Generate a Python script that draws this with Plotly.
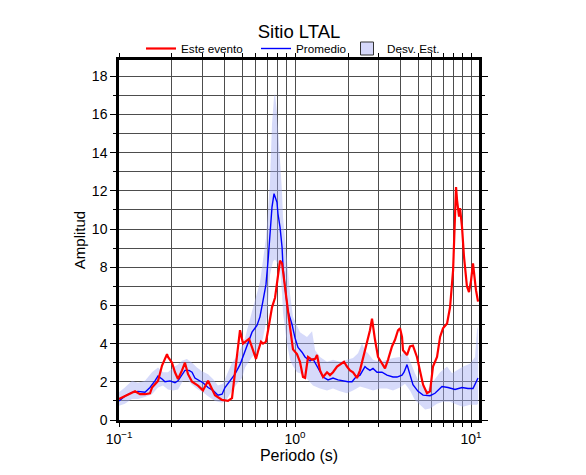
import plotly.graph_objects as go

# ---------------- data ----------------
red_T = [0.100, 0.108, 0.1186, 0.1233, 0.1316, 0.1405, 0.150, 0.154, 0.1666, 0.1756,
         0.1874, 0.1898, 0.195, 0.200, 0.208, 0.2164, 0.228, 0.237, 0.2467, 0.260,
         0.281, 0.300, 0.3206, 0.3375, 0.351, 0.385, 0.416, 0.4385, 0.444, 0.468,
         0.487, 0.5065, 0.5336, 0.548, 0.570, 0.600, 0.6166, 0.641, 0.658, 0.684,
         0.703, 0.740, 0.770, 0.800, 0.822, 0.844, 0.866, 0.900, 0.937, 0.974,
         1.026, 1.067, 1.110, 1.140, 1.186, 1.250, 1.300, 1.334, 1.387, 1.443,
         1.520, 1.580, 1.644, 1.733, 1.802, 1.898, 1.973, 2.053, 2.136, 2.250,
         2.340, 2.434, 2.564, 2.666, 2.738, 2.774, 2.848, 2.962, 3.120, 3.245,
         3.375, 3.556, 3.699, 3.847, 3.95, 4.054, 4.108, 4.329, 4.500, 4.678,
         4.93, 5.13, 5.34, 5.62, 5.85, 6.08, 6.41, 6.67, 6.93, 7.31,
         7.60, 7.91, 8.11, 8.22, 8.33, 8.55, 8.66, 8.89, 9.12, 9.48,
         9.74, 10.0, 10.26, 10.67, 10.96]
red_A = [1.1, 1.25, 1.45, 1.5, 1.35, 1.35, 1.4, 1.7, 2.05, 2.85,
         3.45, 3.3, 3.15, 3.0, 2.5, 2.15, 2.6, 3.0, 2.4, 2.0,
         1.8, 1.55, 2.05, 1.6, 1.3, 1.05, 1.0, 1.15, 1.6, 3.3,
         4.7, 4.0, 4.15, 4.25, 3.8, 3.2, 3.6, 4.1, 4.0, 4.1,
         4.7, 5.9, 6.4, 7.5, 8.35, 8.2, 7.3, 6.25, 4.85, 3.7,
         3.45, 3.05, 2.25, 2.2, 3.3, 3.15, 3.2, 3.4, 2.6, 2.25,
         2.5, 2.35, 2.5, 2.8, 2.9, 3.05, 2.8, 2.6, 2.5, 2.2,
         2.6, 3.2, 4.0, 4.7, 5.3, 4.9, 4.2, 3.3, 2.95, 2.7,
         3.15, 3.85, 4.2, 4.7, 4.8, 4.35, 3.65, 3.4, 3.85, 3.9,
         3.3, 2.6, 1.85, 1.4, 1.5, 2.8, 3.3, 4.35, 4.8, 5.05,
         5.9, 7.85, 10.5, 12.2, 11.5, 10.65, 11.1, 10.1, 8.55, 7.0,
         6.7, 7.3, 8.2, 6.8, 6.2]

blue_T = [0.100, 0.108, 0.1186, 0.1282, 0.1405, 0.150, 0.160, 0.1666, 0.1756, 0.1825,
          0.195, 0.208, 0.2164, 0.228, 0.237, 0.250, 0.260, 0.270, 0.281, 0.300,
          0.3206, 0.342, 0.365, 0.385, 0.400, 0.427, 0.456, 0.487, 0.5065, 0.5336,
          0.570, 0.608, 0.632, 0.658, 0.684, 0.703, 0.721, 0.740, 0.760, 0.770,
          0.790, 0.800, 0.822, 0.844, 0.855, 0.877, 0.912, 0.962, 1.000, 1.040,
          1.096, 1.140, 1.217, 1.265, 1.334, 1.387, 1.443, 1.540, 1.644, 1.755,
          1.874, 2.000, 2.108, 2.193, 2.340, 2.498, 2.564, 2.666, 2.774, 2.923,
          3.120, 3.331, 3.603, 3.797, 4.054, 4.162, 4.329, 4.500, 4.678, 5.0,
          5.34, 5.85, 6.24, 6.84, 7.40, 8.11, 8.89, 9.61, 10.26, 10.96]
blue_A = [1.0, 1.25, 1.45, 1.5, 1.45, 1.7, 2.05, 2.3, 2.15, 2.0,
          2.05, 1.95, 2.05, 2.4, 2.6, 2.6, 2.5, 2.2, 2.1, 1.95,
          1.7, 1.55, 1.3, 1.35, 1.7, 2.05, 2.4, 2.9, 3.3, 3.9,
          4.6, 4.95, 5.4, 6.25, 7.1, 8.35, 9.75, 11.15, 11.85, 11.65,
          11.4, 10.8, 10.1, 9.05, 8.0, 6.95, 5.7, 5.0, 4.3, 3.8,
          3.55, 3.3, 3.1, 3.2, 2.8, 2.5, 2.25, 2.1, 2.2, 2.1,
          2.05, 2.0, 2.0, 2.2, 2.35, 2.8, 2.7, 2.6, 2.7, 2.5,
          2.5, 2.35, 2.25, 2.25, 2.35, 2.5, 2.9, 2.4, 1.85, 1.5,
          1.3, 1.27, 1.4, 1.75, 1.7, 1.6, 1.7, 1.65, 1.65, 2.2]

band_up_T = [0.100, 0.108, 0.1186, 0.1282, 0.1405, 0.154, 0.1666, 0.1778, 0.1898, 0.2027,
             0.2164, 0.228, 0.243, 0.260, 0.2774, 0.296, 0.3206, 0.342, 0.365, 0.390,
             0.411, 0.4385, 0.4745, 0.520, 0.570, 0.632, 0.684, 0.721, 0.740, 0.760,
             0.770, 0.790, 0.822, 0.844, 0.855, 0.900, 0.937, 0.974, 1.067, 1.170,
             1.250, 1.300, 1.387, 1.520, 1.644, 1.802, 1.973, 2.136, 2.280, 2.402,
             2.498, 2.598, 2.774, 3.040, 3.331, 3.603, 3.95, 4.217, 4.5, 4.80,
             5.13, 5.62, 6.08, 6.67, 7.31, 7.80, 8.33, 9.01, 9.86, 10.54,
             10.81, 10.96]
band_up = [1.45, 1.7, 2.05, 1.95, 2.05, 2.5, 2.75, 2.5, 2.5, 2.75,
           2.9, 3.1, 3.2, 3.0, 2.75, 2.55, 2.4, 2.15, 1.8, 1.9,
           2.4, 3.0, 3.4, 4.3, 5.7, 7.2, 9.5, 12.5, 15.5, 16.9,
           17.1, 16.1, 13.6, 11.9, 10.6, 8.4, 6.6, 5.4, 4.6, 4.35,
           4.65, 3.65, 3.3, 3.05, 3.15, 3.05, 3.15, 3.25, 3.5, 4.0,
           3.65, 3.5, 3.15, 3.05, 3.15, 3.25, 3.3, 3.65, 3.1, 2.45,
           1.9, 1.55, 2.0, 2.5, 2.8, 2.45, 2.6, 2.8, 2.95, 3.3,
           4.7, 4.9]

band_lo_T = [0.100, 0.108, 0.1186, 0.1282, 0.1405, 0.154, 0.1666, 0.1778, 0.1898, 0.2027,
             0.2164, 0.231, 0.2467, 0.263, 0.281, 0.300, 0.3206, 0.351, 0.385, 0.411,
             0.4385, 0.468, 0.500, 0.520, 0.570, 0.6166, 0.658, 0.693, 0.721, 0.750,
             0.770, 0.822, 0.844, 0.855, 0.900, 0.937, 0.962, 1.026, 1.067, 1.170,
             1.265, 1.387, 1.520, 1.644, 1.802, 1.973, 2.136, 2.340, 2.564, 2.774,
             3.040, 3.331, 3.603, 3.95, 4.217, 4.5, 4.80, 5.13, 5.48, 5.85,
             6.41, 6.93, 7.60, 8.33, 9.01, 9.86, 10.81, 10.96]
band_lo = [0.75, 0.85, 1.1, 1.1, 1.2, 1.35, 1.7, 1.8, 1.6, 1.55,
           1.6, 2.05, 2.05, 1.8, 1.6, 1.45, 1.25, 1.0, 0.9, 1.1,
           1.55, 1.9, 2.2, 2.75, 3.3, 3.6, 4.3, 5.4, 7.6, 8.3,
           8.4, 8.0, 6.6, 5.6, 4.0, 3.15, 2.9, 2.5, 2.45, 2.15,
           1.8, 1.65, 1.55, 1.65, 1.5, 1.4, 1.55, 1.75, 1.65, 1.55,
           1.65, 1.65, 1.55, 1.7, 1.9, 1.55, 1.05, 0.8, 0.55, 0.6,
           0.85, 0.95, 0.95, 0.8, 0.7, 0.8, 0.8, 0.85]

title_text = "Sitio LTAL"
x_title = "Periodo (s)"
y_title = "Amplitud"
legend_names = ["Este evento", "Promedio", "Desv. Est."]
decades = [0.1, 1, 10]
decade_labels = ["10<sup>\u22121</sup>", "10<sup>0</sup>", "10<sup>1</sup>"]

# ---------------- styling ----------------
FONT = "Liberation Sans, Arial, Helvetica, sans-serif"
RED = "#ff0000"
BLUE = "#0000ff"
BAND = "rgba(165,172,245,0.45)"
BAND_LEG = "rgb(214,216,250)"
GRID = "#4d4d4d"

L, R, T, B = 119, 107, 60, 55
W, H = 586, 475
PW = W - L - R


def px_to_paper(p):
    return (p - L) / PW


x_ticks = []
x_text = []
for d, lab in zip(decades, decade_labels):
    for m in range(1, 10):
        v = d * m
        if v > 11.1:
            break
        x_ticks.append(v)
        x_text.append(lab if m == 1 else "")

fig = go.Figure()

fig.add_trace(go.Scatter(
    x=band_up_T + band_lo_T[::-1], y=band_up + band_lo[::-1],
    fill="toself", fillcolor=BAND, mode="none", line=dict(width=0),
    showlegend=False, hoverinfo="skip"))

fig.add_trace(go.Scatter(x=blue_T, y=blue_A, mode="lines", name=legend_names[1],
                         line=dict(color=BLUE, width=1.4), legend="legend2"))
fig.add_trace(go.Scatter(x=red_T, y=red_A, mode="lines", name=legend_names[0],
                         line=dict(color=RED, width=2.2), legend="legend"))
fig.add_trace(go.Scatter(x=[None], y=[None], mode="markers", name=legend_names[2],
                         marker=dict(symbol="square", size=13, color=BAND_LEG,
                                     line=dict(color="#333333", width=1)),
                         legend="legend3"))

leg_common = dict(orientation="h", xanchor="left", y=1 - 3 / 360, yanchor="bottom",
                  font=dict(size=11.7, family=FONT), bgcolor="rgba(0,0,0,0)",
                  borderwidth=0)

fig.update_layout(
    width=W, height=H,
    margin=dict(l=L, r=R, t=T, b=B, autoexpand=False),
    paper_bgcolor="white", plot_bgcolor="white",
    font=dict(family=FONT, color="black", size=13),
    title=dict(text=title_text, x=0.5, xref="paper", xanchor="center",
               y=1 - 31.5 / H, yref="container", yanchor="middle",
               font=dict(size=18.5, family=FONT)),
    legend=dict(x=px_to_paper(141), **leg_common),
    legend2=dict(x=px_to_paper(256), **leg_common),
    legend3=dict(x=px_to_paper(347), **leg_common),
    showlegend=True,
)

fig.update_xaxes(
    type="log", range=[-1, 1.0453], automargin=False,
    tickmode="array", tickvals=x_ticks, ticktext=x_text,
    ticks="outside", ticklen=4, tickwidth=1, tickcolor="black",
    showgrid=True, gridcolor=GRID, gridwidth=1,
    showline=True, linecolor="black", linewidth=2.5, mirror="ticks",
    zeroline=False, tickfont=dict(size=14),
    title=dict(text=x_title, font=dict(size=16), standoff=5),
)
fig.update_yaxes(
    range=[0, 18.85], tickmode="linear", tick0=0, dtick=2, automargin=False,
    ticks="outside", ticklen=6, tickwidth=1, tickcolor="black",
    minor=dict(dtick=1, tick0=0, ticks="outside", ticklen=3, tickcolor="black",
               showgrid=True, gridcolor=GRID, gridwidth=1),
    showgrid=True, gridcolor=GRID, gridwidth=1,
    showline=True, linecolor="black", linewidth=2.5, mirror="ticks",
    zeroline=False, tickfont=dict(size=14),
    title=dict(text=y_title, font=dict(size=15), standoff=3),
)

fig.write_html("out.html", config={"displayModeBar": False},
               post_script="document.body.style.margin='0';document.body.style.overflow='hidden';")
